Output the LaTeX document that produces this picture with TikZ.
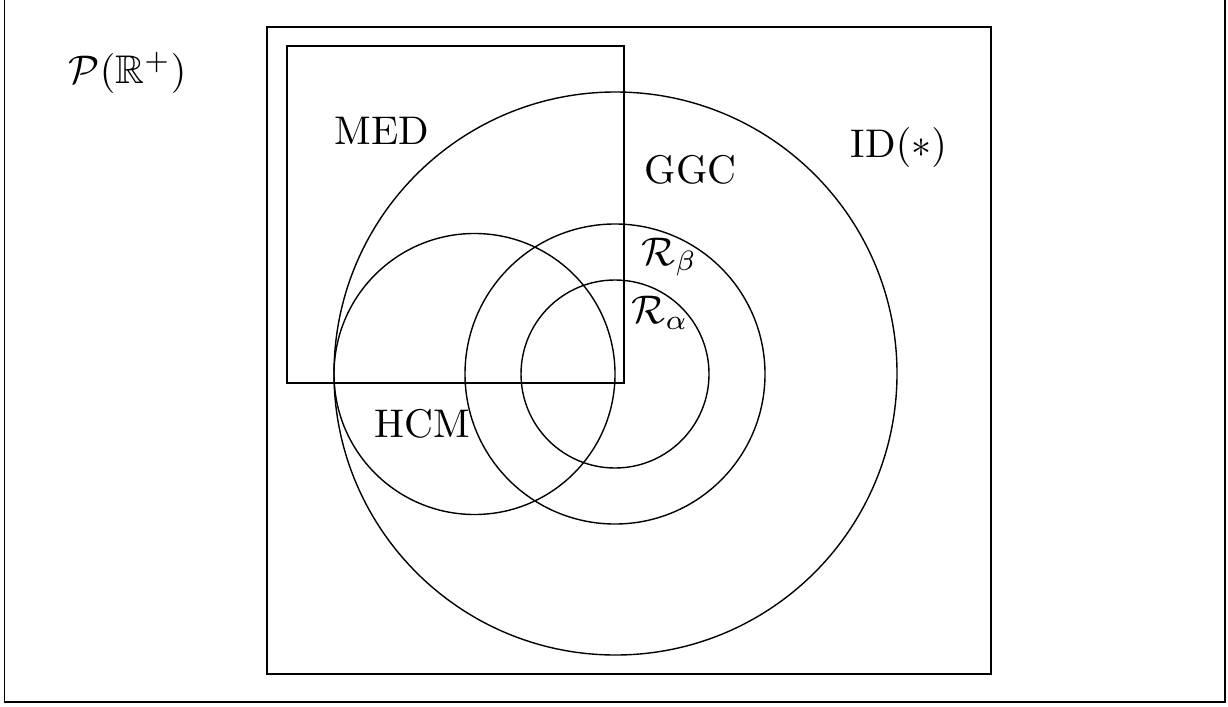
\documentclass[tikz,border=0pt]{standalone}
\usepackage{amssymb}
\begin{document}
\begin{tikzpicture}[x=0.25pt,y=-0.25pt,
  lbl/.style={inner sep=0pt,anchor=base west,font=\fontsize{10}{12}\selectfont},
  setline/.style={draw=black,line width=0.35pt}]
\useasboundingbox (0,0) rectangle (1228,706);
% outer frame (top edge outside the picture)
\draw[setline] (4.5,-5) -- (4.5,702) -- (1225,702) -- (1225,-5);
% inner universe rectangle
\draw[setline] (267,27) rectangle (991,674);
% MED square
\draw[setline] (287,46) rectangle (624,383);
% circles
\coordinate (cG) at (615.5,373.5);
\coordinate (cH) at (474.5,374);
\coordinate (cB) at (615,374);
\coordinate (cA) at (615,374);
\draw[setline] (cG) circle[radius=70.375pt];
\draw[setline] (cH) circle[radius=35.125pt];
\draw[setline] (cB) circle[radius=37.5pt];
\draw[setline] (cA) circle[radius=23.5pt];
% labels
\node[lbl] (lP) at (68,84) {$\mathcal{P}(\mathbb{R}^{+})$};
\node[lbl] (lMED) at (334,145) {MED};
\node[lbl] (lGGC) at (644,183) {GGC};
\node[lbl] (lID) at (850,158) {ID$(\ast)$};
\node[lbl] (lB) at (641,265) {$\mathcal{R}_{\beta}$};
\node[lbl] (lA) at (631,323) {$\mathcal{R}_{\alpha}$};
\node[lbl] (lHCM) at (374,437) {HCM};
\end{tikzpicture}
\end{document}
